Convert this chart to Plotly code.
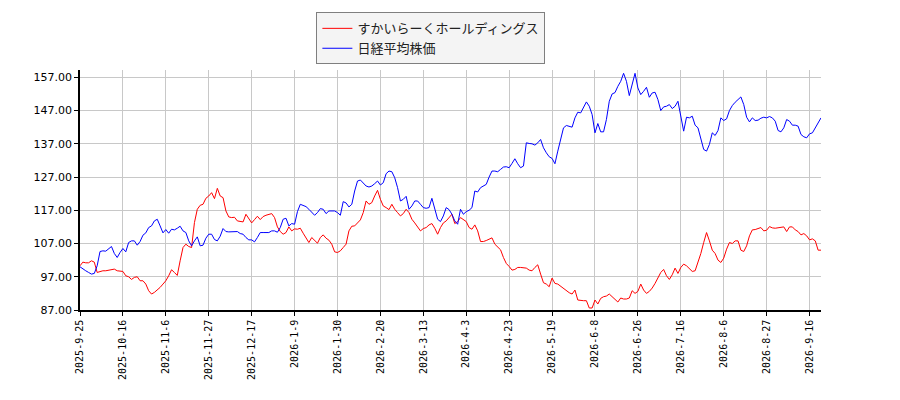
import plotly.graph_objects as go

# tick labels every 15 trading days
tick_labels = [
    "2025-9-25", "2025-10-16", "2025-11-6", "2025-11-27", "2025-12-17",
    "2026-1-9", "2026-1-30", "2026-2-20", "2026-3-13", "2026-4-3",
    "2026-4-23", "2026-5-19", "2026-6-8", "2026-6-26", "2026-7-16",
    "2026-8-6", "2026-8-27", "2026-9-16",
]
tick_step = 15

# すかいらーくホールディングス (relative, start = 100)
skylark = [
    100.3, 101.4, 101.2, 101.2, 101.8, 101.4, 98.3, 98.6, 98.8, 98.8,
    99.0, 99.2, 99.3, 98.8, 98.7, 98.6, 97.3, 97.0, 96.2, 96.8,
    97.0, 95.8, 95.8, 94.8, 92.8, 91.8, 92.3, 93.0, 93.8, 94.8,
    95.8, 97.3, 99.1, 98.3, 97.4, 101.8, 105.8, 106.8, 106.1, 105.8,
    113.3, 117.3, 118.5, 118.8, 120.6, 121.3, 122.3, 120.5, 123.6, 121.3,
    120.8, 116.8, 115.0, 114.8, 114.9, 113.8, 113.6, 113.5, 115.8, 114.3,
    113.2, 114.2, 115.2, 114.2, 115.1, 115.5, 115.8, 116.0, 114.8, 112.0,
    110.6, 109.8, 110.3, 112.0, 110.8, 111.4, 111.3, 111.6, 110.1, 108.6,
    107.3, 108.8, 107.8, 107.1, 108.8, 109.6, 108.6, 108.0, 106.8, 104.5,
    104.3, 104.8, 105.8, 106.8, 110.8, 112.2, 112.3, 113.3, 114.1, 116.3,
    119.8, 118.8, 119.3, 121.3, 123.0, 120.3, 118.3, 117.8, 117.2, 118.8,
    117.3, 116.3, 115.3, 116.0, 117.3, 116.3, 114.3, 113.2, 111.8, 110.8,
    111.5, 111.8, 112.6, 113.0, 111.6, 109.8, 111.8, 113.2, 113.8, 114.8,
    115.8, 113.0, 113.6, 114.8, 114.3, 113.6, 111.8, 111.3, 112.6, 110.8,
    107.6, 107.6, 107.9, 108.2, 108.7, 106.8, 105.8, 105.1, 102.8, 101.0,
    100.1, 99.0, 99.2, 99.8, 99.8, 99.8, 99.6, 99.0, 98.8, 99.8,
    100.6, 97.8, 95.2, 94.8, 94.0, 96.6, 95.0, 94.8, 94.1, 93.5,
    92.8, 92.2, 91.8, 93.0, 90.0, 89.8, 89.8, 89.8, 87.6, 87.6,
    90.0, 88.8, 90.5, 91.0, 91.2, 91.8, 91.0, 90.0, 89.4, 90.6,
    90.3, 90.3, 90.6, 92.8, 92.0, 92.6, 94.8, 93.0, 92.0, 92.6,
    93.6, 95.0, 96.6, 98.3, 99.2, 97.3, 96.2, 97.6, 99.6, 98.0,
    99.8, 100.8, 100.3, 99.3, 98.6, 98.8, 101.3, 104.0, 107.3, 110.3,
    107.8, 105.0, 104.0, 102.0, 101.3, 102.6, 105.3, 107.3, 107.0, 107.8,
    107.8, 105.0, 104.6, 106.3, 109.3, 111.1, 111.2, 111.5, 111.8, 110.8,
    111.0, 112.1, 111.7, 111.6, 111.8, 111.8, 112.0, 110.6, 112.0, 112.0,
    111.1, 110.6, 109.6, 110.0, 109.3, 108.1, 108.4, 107.8, 105.0, 105.0,
]

# 日経平均株価 (relative, start = 100)
nikkei = [
    100.0, 99.3, 98.8, 98.3, 97.8, 98.0, 100.3, 104.6, 104.8, 104.7,
    105.3, 106.1, 104.0, 102.8, 104.3, 105.5, 104.5, 107.3, 107.8, 107.8,
    106.5, 107.6, 109.5, 110.2, 111.8, 112.3, 113.8, 114.3, 112.3, 110.2,
    111.2, 110.1, 111.3, 111.1, 111.6, 112.2, 110.8, 110.3, 107.8, 106.3,
    107.8, 109.0, 106.3, 106.5, 108.6, 109.8, 109.8, 108.2, 107.8, 109.2,
    111.5, 110.6, 110.5, 110.6, 110.7, 110.6, 110.0, 109.8, 108.8, 108.1,
    108.1, 107.5, 108.8, 110.3, 110.3, 110.3, 110.3, 110.8, 110.8, 110.4,
    111.8, 114.3, 114.6, 112.3, 113.0, 112.8, 116.6, 118.8, 118.5, 118.1,
    117.3, 116.3, 115.5, 116.3, 117.5, 117.3, 116.0, 116.8, 116.8, 116.8,
    116.3, 115.5, 119.6, 119.2, 118.0, 118.8, 122.8, 125.8, 126.1, 125.3,
    124.3, 124.0, 124.3, 125.0, 125.8, 124.6, 125.3, 128.0, 128.8, 128.6,
    126.8, 123.8, 119.8, 120.3, 121.2, 117.3, 118.3, 119.8, 119.8, 118.8,
    117.8, 117.6, 117.8, 120.6, 117.3, 114.3, 113.6, 115.3, 117.8, 117.2,
    115.8, 113.8, 112.8, 117.3, 115.8, 116.6, 117.0, 117.8, 122.8, 122.5,
    123.8, 124.3, 124.8, 127.0, 128.8, 128.8, 128.6, 129.3, 130.0, 130.1,
    129.8, 131.1, 132.5, 131.0, 129.8, 130.3, 137.3, 137.1, 137.0, 136.6,
    137.3, 138.3, 135.8, 134.3, 133.1, 132.6, 131.0, 134.8, 138.6, 141.8,
    142.5, 142.3, 142.0, 144.8, 146.5, 146.3, 147.8, 149.6, 148.3, 145.8,
    140.3, 143.1, 140.6, 140.6, 144.3, 149.8, 152.0, 152.4, 154.3, 155.8,
    158.2, 155.8, 151.5, 154.8, 158.2, 153.8, 151.8, 152.8, 154.0, 151.0,
    152.3, 152.5, 150.3, 147.0, 148.1, 148.3, 148.8, 147.6, 148.3, 149.8,
    145.5, 140.8, 145.0, 144.8, 145.3, 142.6, 141.8, 138.6, 135.3, 134.8,
    136.8, 140.3, 139.5, 141.0, 144.8, 144.0, 144.5, 147.0, 148.5, 149.5,
    150.3, 151.1, 148.8, 145.0, 143.6, 144.8, 144.0, 144.1, 144.7, 145.0,
    144.8, 145.2, 144.8, 143.8, 141.0, 140.6, 141.8, 144.3, 143.8, 142.6,
    142.6, 142.3, 139.8, 139.1, 138.8, 140.0, 140.3, 141.8, 143.1, 144.8,
]

y_ticks = [87, 97, 107, 117, 127, 137, 147, 157]

days = list(range(len(skylark)))
tick_pos = [i * tick_step for i in range(len(tick_labels))]

fig = go.Figure()
fig.add_trace(go.Scatter(
    x=days, y=skylark, mode="lines", name="すかいらーくホールディングス",
    line=dict(color="#ff0000", width=1),
))
fig.add_trace(go.Scatter(
    x=days, y=nikkei, mode="lines", name="日経平均株価",
    line=dict(color="#0000ff", width=1),
))

axis_common = dict(
    showgrid=True, gridcolor="#c8c8c8", gridwidth=1,
    showline=True, linecolor="black", linewidth=1.5,
    ticks="outside", ticklen=4, tickcolor="black",
    zeroline=False, mirror=False, automargin=False,
)

# the page body adds 8px around the figure, so margins are shifted by 8
fig.update_layout(
    width=900, height=400,
    margin=dict(l=72, r=87, t=62, b=98, autoexpand=False),
    paper_bgcolor="white", plot_bgcolor="white",
    font=dict(family="Noto Sans CJK JP, DejaVu Sans", size=12, color="black"),
    xaxis=dict(
        range=[0, len(skylark) - 1], tickvals=tick_pos, ticktext=tick_labels,
        tickangle=-90,
        tickfont=dict(family="DejaVu Sans Mono", size=10, color="black"),
        **axis_common,
    ),
    yaxis=dict(
        range=[87, 159.2], tickvals=y_ticks, tickformat=".2f",
        tickfont=dict(family="DejaVu Sans", size=11, color="black"),
        **axis_common,
    ),
    legend=dict(
        x=0.319, y=1.24, xanchor="left", yanchor="top",
        bgcolor="#f4f4f4", bordercolor="#7f7f7f", borderwidth=1,
        font=dict(family="Noto Sans CJK JP", size=13, color="#222222"),
        tracegroupgap=0, itemwidth=30,
    ),
    showlegend=True,
)

fig.write_html("out.html")
